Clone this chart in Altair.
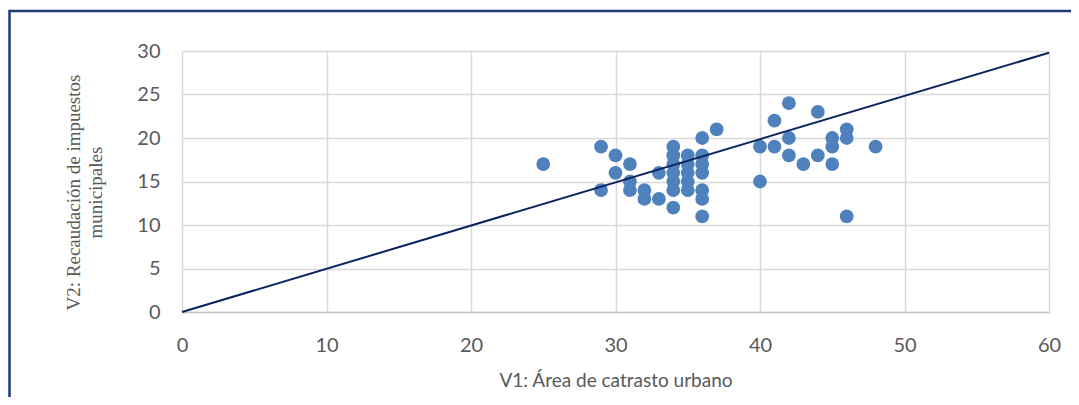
import altair as alt
import pandas as pd

# Scatter data (V1: área de catastro urbano, V2: recaudación de impuestos municipales)
v1 = [25, 29, 29, 30, 30, 31, 31, 31, 32, 32, 33, 33,
      34, 34, 34, 34, 34, 34, 34,
      35, 35, 35, 35, 35,
      36, 36, 36, 36, 36, 36, 36,
      37, 40, 40, 41, 41, 42, 42, 42, 43, 44, 44,
      45, 45, 45, 46, 46, 46, 48]
v2 = [17, 19, 14, 18, 16, 17, 15, 14, 14, 13, 16, 13,
      19, 18, 17, 16, 15, 14, 12,
      18, 17, 16, 15, 14,
      20, 18, 17, 16, 14, 13, 11,
      21, 19, 15, 22, 19, 24, 20, 18, 17, 23, 18,
      20, 19, 17, 21, 20, 11, 19]

# Trend line end points
line_x = [0, 60]
line_y = [0, 29.8]

x_ticks = [0, 10, 20, 30, 40, 50, 60]
y_ticks = [0, 5, 10, 15, 20, 25, 30]

pts = pd.DataFrame({"V1": v1, "V2": v2})
ln = pd.DataFrame({"V1": line_x, "V2": line_y})

W, H = 867, 261
PAD = {"left": 174, "top": 43, "right": 22, "bottom": 85}

xscale = alt.Scale(domain=[0, 60], nice=False)
yscale = alt.Scale(domain=[0, 30], nice=False)

xaxis = alt.Axis(values=x_ticks, title="V1: Área de catrasto urbano",
                 titleFont="Lato", titleFontSize=19, titleFontWeight="normal",
                 titleColor="#595959", titlePadding=16, labelFlush=False,
                 labelPadding=23, domain=True, domainColor="#C6C6C6", domainWidth=1.5)
yaxis = alt.Axis(values=y_ticks, title=["V2: Recaudación de impuestos", "municipales"],
                 titleFont="Liberation Serif", titleFontSize=19, titleFontWeight="normal",
                 titleColor="#595959", titleX=-118, titleY=141,
                 titleAlign="center", titleBaseline="top", titleLineHeight=22,
                 labelPadding=22, labelFlush=False)

border = alt.Chart(alt.Data(values=[{"a": 1}])).mark_rect(
    fill=None, stroke="#1F3B7A", strokeWidth=2.5
).encode(
    x=alt.value(-172.5), x2=alt.value(1200),
    y=alt.value(-40), y2=alt.value(600)
)

scatter = alt.Chart(pts).mark_circle(size=190, color="#4F81BD", opacity=1).encode(
    x=alt.X("V1:Q", scale=xscale, axis=xaxis),
    y=alt.Y("V2:Q", scale=yscale, axis=yaxis),
)

line = alt.Chart(ln).mark_line(color="#0A2463", strokeWidth=2).encode(
    x=alt.X("V1:Q", scale=xscale),
    y=alt.Y("V2:Q", scale=yscale),
)

chart = alt.layer(border, scatter, line).properties(
    width=W, height=H, padding=PAD,
    autosize=alt.AutoSizeParams(type="none"),
    background="white",
).configure_view(stroke=None).configure_axis(
    grid=True, gridColor="#D9D9D9", gridWidth=1.5,
    ticks=False, domain=False,
    labelColor="#595959", labelFont="Lato", labelFontSize=20,
)

chart.save("out.html", embed_options={"renderer": "svg", "actions": False})
